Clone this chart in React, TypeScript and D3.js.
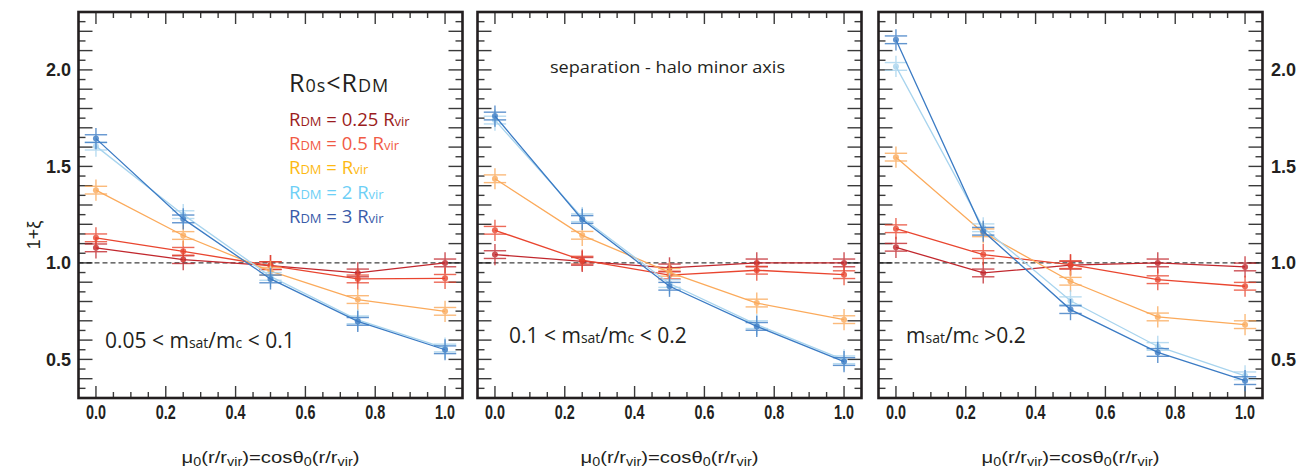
import React from "react";
import * as d3 from "d3";

const xVals = [0, 0.25, 0.5, 0.75, 1.0];
const seriesKeys = ["0.25", "0.5", "1", "2", "3"];

const p1_r025 = [1.078, 1.017, 0.986, 0.948, 1.0];
const p1_r05 = [1.13, 1.06, 0.986, 0.917, 0.92];
const p1_r1 = [1.377, 1.142, 0.957, 0.81, 0.749];
const p1_r2 = [1.605, 1.25, 0.93, 0.705, 0.559];
const p1_r3 = [1.644, 1.228, 0.917, 0.697, 0.55];

const p2_r025 = [1.043, 1.008, 0.974, 1.0, 1.0];
const p2_r05 = [1.169, 1.014, 0.937, 0.962, 0.939];
const p2_r1 = [1.436, 1.143, 0.951, 0.792, 0.706];
const p2_r2 = [1.74, 1.234, 0.893, 0.68, 0.498];
const p2_r3 = [1.761, 1.225, 0.879, 0.671, 0.489];

const p3_r025 = [1.081, 0.948, 0.988, 1.0, 0.979];
const p3_r05 = [1.177, 1.043, 0.991, 0.913, 0.879];
const p3_r1 = [1.548, 1.156, 0.905, 0.72, 0.68];
const p3_r2 = [2.018, 1.182, 0.804, 0.567, 0.415];
const p3_r3 = [2.156, 1.164, 0.758, 0.536, 0.39];

const xTickLabels = ["0.0", "0.2", "0.4", "0.6", "0.8", "1.0"];
const yTickLabels = ["0.5", "1.0", "1.5", "2.0"];
const legendValues = ["0.25 ", "0.5 ", "", "2 ", "3 "];

const lineColors = ["#c1272d", "#e9452f", "#fbaa5b", "#a8d4ee", "#3b7bc4"];
const legendColors = ["#9b1c20", "#f15a45", "#fdb913", "#6dcff6", "#3a5ba9"];

const panels = [
  { left: 78.5, data: [p1_r025, p1_r05, p1_r1, p1_r2, p1_r3] },
  { left: 477.5, data: [p2_r025, p2_r05, p2_r1, p2_r2, p2_r3] },
  { left: 878.5, data: [p3_r025, p3_r05, p3_r1, p3_r2, p3_r3] },
];

const W = 384;
const TOP = 12;
const BOTTOM = 398;
const font = "'Open Sans', 'Noto Sans', sans-serif";
const boldFont = "'Liberation Sans', Arial, sans-serif";

const yScale = d3.scaleLinear().domain([0.3, 2.3]).range([BOTTOM, TOP]);

function Panel({ left, data, idx }: { left: number; data: number[][]; idx: number }) {
  const x = d3.scaleLinear().domain([-0.05, 1.05]).range([left, left + W]);
  const right = left + W;
  const xt = d3.range(0, 21).map((i) => i * 0.05);
  const yt = d3.range(1, 40).map((i) => 0.3 + i * 0.05);
  const line = d3
    .line<number>()
    .x((_, i) => x(xVals[i]))
    .y((d) => yScale(d));
  const tickColor = "#3a3a3a";
  return (
    <g>
      {xt.map((t, i) => {
        const major = i % 4 === 0;
        const len = major ? 12 : 6;
        return (
          <g key={"xt" + i}>
            <line x1={x(t)} x2={x(t)} y1={BOTTOM} y2={BOTTOM - len} stroke={tickColor} strokeWidth={1.4} />
            <line x1={x(t)} x2={x(t)} y1={TOP} y2={TOP + len} stroke={tickColor} strokeWidth={1.4} />
          </g>
        );
      })}
      {yt.map((t, i) => {
        const major = Math.abs(Math.round(t * 10) - t * 10) < 1e-6;
        const len = major ? 14 : 7;
        return (
          <g key={"yt" + i}>
            <line x1={left} x2={left + len} y1={yScale(t)} y2={yScale(t)} stroke={tickColor} strokeWidth={1.4} />
            <line x1={right} x2={right - len} y1={yScale(t)} y2={yScale(t)} stroke={tickColor} strokeWidth={1.4} />
          </g>
        );
      })}
      <line x1={left} x2={right} y1={yScale(1)} y2={yScale(1)} stroke="#111" strokeWidth={1} strokeDasharray="5,3" />
      {data.map((vals, s) => (
        <g key={"s" + s}>
          <path d={line(vals) || ""} fill="none" stroke={lineColors[s]} strokeWidth={1.3} />
          {vals.map((v, i) => {
            const cx = x(xVals[i]);
            const cy = yScale(v);
            const eh = yScale(v - 0.055) - cy;
            const ec = yScale(v - 0.02) - cy;
            const hw = x(0.032) - x(0);
            return (
              <g key={"p" + i} opacity={0.8}>
                <line x1={cx} x2={cx} y1={cy - eh} y2={cy + eh} stroke={lineColors[s]} strokeWidth={1.4} />
                <line x1={cx - hw} x2={cx + hw} y1={cy - ec} y2={cy - ec} stroke={lineColors[s]} strokeWidth={1.4} />
                <line x1={cx - hw} x2={cx + hw} y1={cy + ec} y2={cy + ec} stroke={lineColors[s]} strokeWidth={1.4} />
                <circle cx={cx} cy={cy} r={3} fill={lineColors[s]} />
              </g>
            );
          })}
        </g>
      ))}
      <rect x={left} y={TOP} width={W} height={BOTTOM - TOP} fill="none" stroke="#231f20" strokeWidth={2.6} />
      {xTickLabels.map((lab, i) => (
        <text
          key={"xl" + i}
          x={x(+lab)}
          y={419}
          textAnchor="middle"
          fontFamily={boldFont}
          fontWeight="bold"
          fontSize={20}
          textLength={20}
          lengthAdjust="spacingAndGlyphs"
          fill="#231f20"
        >
          {lab}
        </text>
      ))}
      <text
        x={left + W / 2}
        y={463}
        textAnchor="middle"
        fontFamily={boldFont}
        fontSize={17}
        fill="#231f20"
        textLength={178}
        lengthAdjust="spacingAndGlyphs"
      >
        μ<tspan fontSize={12} dy={3}>0</tspan>
        <tspan dy={-3}>(r/r</tspan>
        <tspan fontSize={12} dy={3}>vir</tspan>
        <tspan dy={-3}>)=cosθ</tspan>
        <tspan fontSize={12} dy={3}>0</tspan>
        <tspan dy={-3}>(r/r</tspan>
        <tspan fontSize={12} dy={3}>vir</tspan>
        <tspan dy={-3}>)</tspan>
      </text>
      {idx === 0 &&
        yTickLabels.map((lab, i) => (
          <text key={"yl" + i} x={71} y={yScale(+lab) + 6.5} textAnchor="end" fontFamily={boldFont} fontWeight="bold" fontSize={18} fill="#231f20">
            {lab}
          </text>
        ))}
      {idx === 2 &&
        yTickLabels.map((lab, i) => (
          <text key={"yl" + i} x={1271} y={yScale(+lab) + 6.5} textAnchor="start" fontFamily={boldFont} fontWeight="bold" fontSize={18} fill="#231f20">
            {lab}
          </text>
        ))}
    </g>
  );
}

export default function App() {
  return (
    <svg width={1309} height={468} style={{ position: "absolute", left: 0, top: 0, background: "#fff" }}>
      <rect x={0} y={0} width={1309} height={468} fill="#fff" />
      {panels.map((p, i) => (
        <Panel key={i} left={p.left} data={p.data} idx={i} />
      ))}
      <text transform="translate(40,235) rotate(-90)" textAnchor="middle" fontFamily={boldFont} fontSize={18} fill="#231f20">
        1+ξ
      </text>
      <text x={289} y={92} fontFamily={font} fontSize={25} fill="#231f20" letterSpacing={1}>
        R<tspan fontSize={18}>0s</tspan>&lt;R<tspan fontSize={18}>DM</tspan>
      </text>
      {seriesKeys.map((k, i) => (
        <text key={"lg" + i} x={289} y={126 + i * 24.2} fontFamily={font} fontSize={18.5} fill={legendColors[i]}>
          R<tspan fontSize={13}>DM</tspan> = {legendValues[i]}R<tspan fontSize={13}>vir</tspan>
        </text>
      ))}
      <text x={550} y={73} fontFamily={font} fontSize={16} fill="#231f20" textLength={235} lengthAdjust="spacingAndGlyphs">
        separation - halo minor axis
      </text>
      <text x={105} y={348} fontFamily={font} fontSize={21} fill="#231f20">
        0.05 &lt; m<tspan fontSize={14}>sat</tspan>/m<tspan fontSize={14}>c</tspan> &lt; 0.1
      </text>
      <text x={509} y={343} fontFamily={font} fontSize={21} fill="#231f20">
        0.1 &lt; m<tspan fontSize={14}>sat</tspan>/m<tspan fontSize={14}>c</tspan> &lt; 0.2
      </text>
      <text x={906} y={343} fontFamily={font} fontSize={21} fill="#231f20">
        m<tspan fontSize={14}>sat</tspan>/m<tspan fontSize={14}>c</tspan> &gt;0.2
      </text>
    </svg>
  );
}
